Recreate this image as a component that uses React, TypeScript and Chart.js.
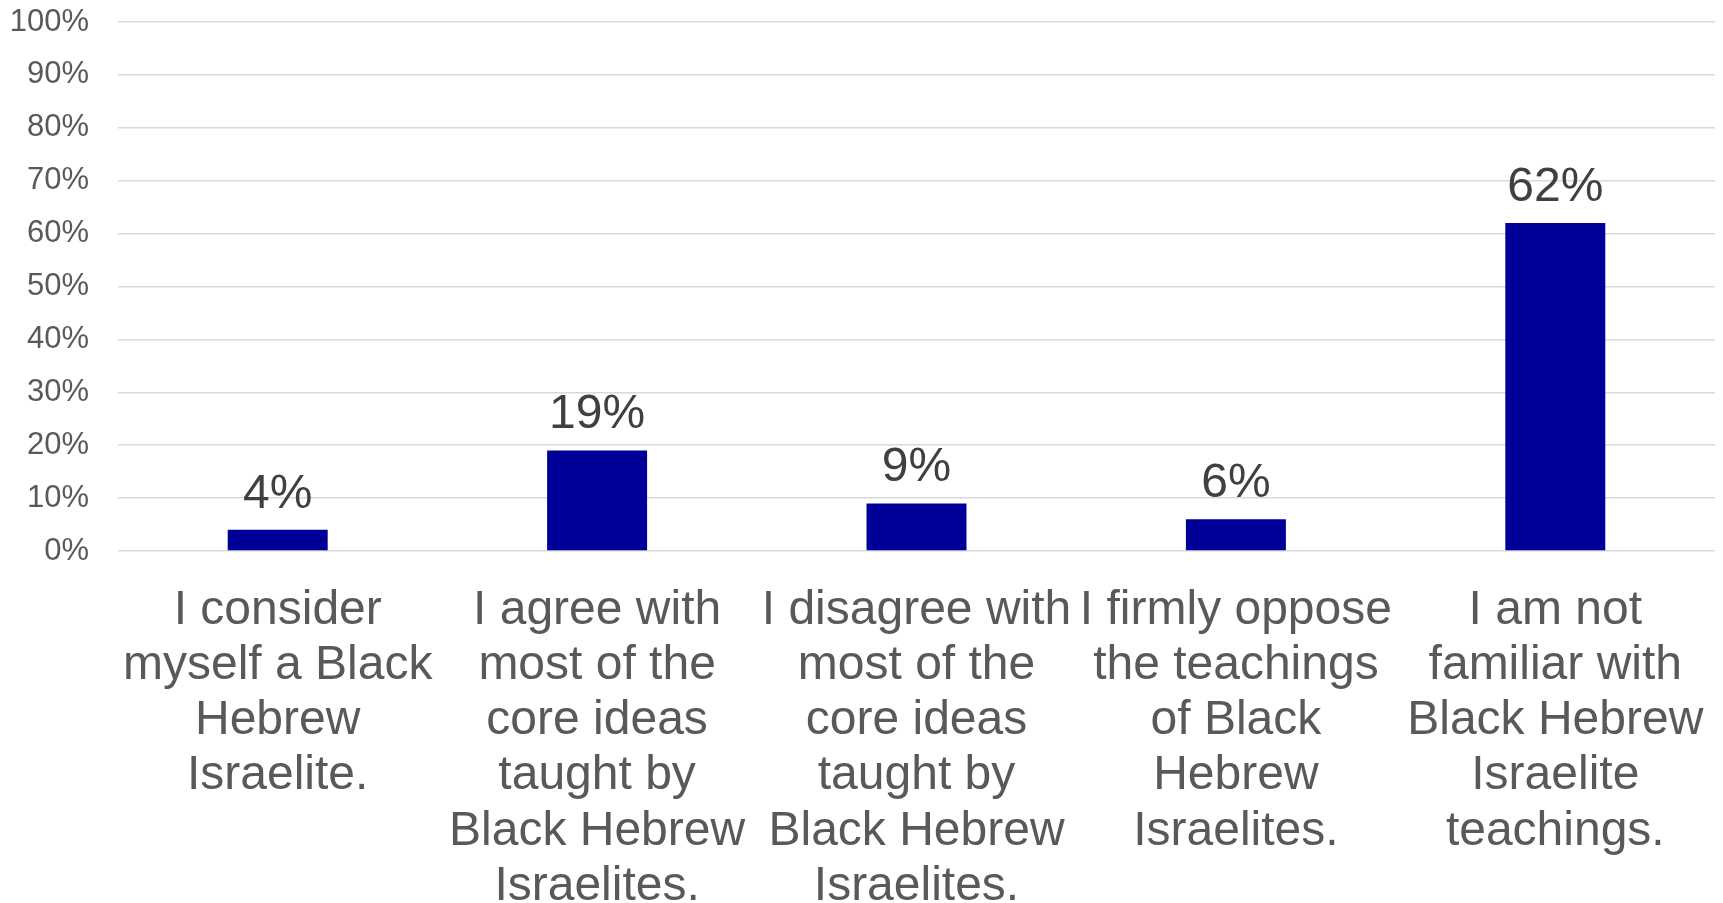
import React, { useEffect, useRef } from "react";
import { Chart, registerables } from "chart.js";

Chart.register(...registerables);

const categories: string[][] = [
  ["I consider", "myself a Black", "Hebrew", "Israelite."],
  ["I agree with", "most of the", "core ideas", "taught by", "Black Hebrew", "Israelites."],
  ["I disagree with", "most of the", "core ideas", "taught by", "Black Hebrew", "Israelites."],
  ["I firmly oppose", "the teachings", "of Black", "Hebrew", "Israelites."],
  ["I am not", "familiar with", "Black Hebrew", "Israelite", "teachings."],
];
const values: number[] = [4, 19, 9, 6, 62];
const yTicks: number[] = [0, 10, 20, 30, 40, 50, 60, 70, 80, 90, 100];

const FONT = "'Liberation Sans', Arial, Helvetica, sans-serif";

const dataLabelPlugin = {
  id: "dataLabels",
  afterDatasetsDraw(chart: any) {
    const ctx = chart.ctx;
    const meta = chart.getDatasetMeta(0);
    ctx.save();
    ctx.font = `48px ${FONT}`;
    ctx.fillStyle = "#404040";
    ctx.textAlign = "center";
    ctx.textBaseline = "alphabetic";
    meta.data.forEach((bar: any, i: number) => {
      ctx.fillText(`${values[i]}%`, bar.x, bar.y - 22);
    });
    ctx.restore();
  },
};

export default function App() {
  const ref = useRef<HTMLCanvasElement | null>(null);
  useEffect(() => {
    document.body.style.margin = "0";
    const canvas = ref.current!;
    const chart = new Chart(canvas, {
      type: "bar",
      data: {
        labels: categories,
        datasets: [
          {
            data: values,
            backgroundColor: "#000099",
            borderWidth: 0,
            barPercentage: 0.313,
            categoryPercentage: 1,
          },
        ],
      },
      options: {
        animation: false,
        responsive: false,
        maintainAspectRatio: false,
        devicePixelRatio: 1,
        layout: { padding: { left: 12, right: 8, top: 22, bottom: 0 } },
        plugins: {
          legend: { display: false },
          tooltip: { enabled: false },
        },
        scales: {
          x: {
            grid: { display: false, drawTicks: false },
            border: { display: false },
            afterFit: (s: any) => {
              s.height = 352;
              s.paddingLeft = 0;
              s.paddingRight = 0;
            },
            ticks: {
              color: "#595959",
              font: { family: FONT, size: 48, lineHeight: 1.15 },
              padding: 32,
              maxRotation: 0,
              minRotation: 0,
              autoSkip: false,
            },
          },
          y: {
            min: 0,
            max: 100,
            afterBuildTicks: (axis: any) => {
              axis.ticks = yTicks.map((v) => ({ value: v }));
            },
            afterFit: (s: any) => {
              s.width = 106;
              s.paddingTop = 0;
              s.paddingBottom = 0;
            },
            grid: { color: "#d9d9d9", lineWidth: 1.5, drawTicks: false },
            border: { display: false },
            ticks: {
              color: "#595959",
              font: { family: FONT, size: 31 },
              padding: 29,
              callback: (v: any) => `${v}%`,
            },
          },
        },
      },
      plugins: [dataLabelPlugin],
    });
    return () => chart.destroy();
  }, []);
  return (
    <div style={{ width: 1723, height: 903 }}>
      <canvas ref={ref} width={1723} height={903} style={{ display: "block" }} />
    </div>
  );
}
